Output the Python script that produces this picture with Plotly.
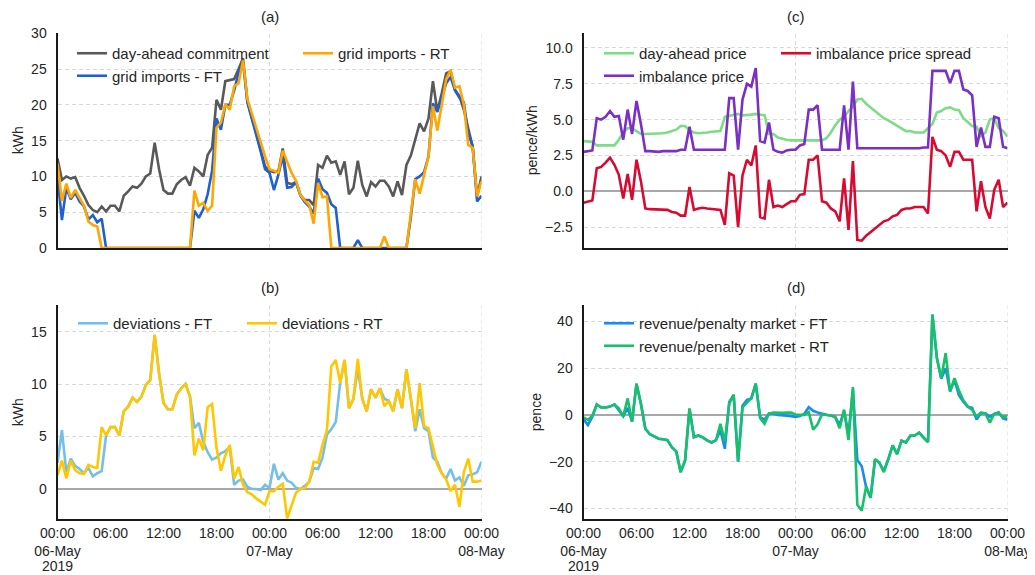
import pandas as pd
import plotly.graph_objects as go

# ---------------- data (half-hourly, 06-May-2019 00:00 .. 08-May-2019 00:00) ----------------
times = pd.date_range("2019-05-06 00:00", "2019-05-08 00:00", freq="30min")

commitment = [12.5, 9.5, 10.0, 9.7, 9.9, 8.4, 7.3, 6.0, 5.3, 5.0, 5.8, 5.1,
              5.9, 5.9, 5.1, 7.3, 7.9, 8.6, 8.4, 9.0, 10.0, 10.4, 14.7, 11.0,
              8.1, 7.6, 7.6, 8.9, 9.5, 9.9, 8.7, 11.2, 10.7, 10.0, 13.0, 14.0,
              20.7, 19.3, 23.3, 23.5, 23.6, 25.0, 26.5, 20.5, 18.4, 16.0, 13.7, 11.4,
              10.8, 10.6, 10.7, 13.9, 9.1, 8.9, 9.2, 7.4, 6.7, 6.7, 6.0, 11.6,
              11.2, 12.9, 11.9, 12.1, 10.2, 12.1, 7.5, 8.4, 12.2, 8.8, 7.2, 9.2,
              8.6, 9.4, 9.4, 8.6, 7.2, 9.3, 7.4, 11.6, 12.9, 15.1, 17.4, 16.3,
              18.1, 23.3, 19.1, 21.6, 24.4, 24.7, 22.1, 21.2, 19.3, 16.7, 14.2, 7.2,
              10.0]

imports_ft = [10.0, 3.9, 8.4, 6.8, 7.7, 6.5, 5.8, 4.0, 4.6, 3.6, 4.1, 0,
              0, 0, 0, 0, 0, 0, 0, 0, 0, 0, 0, 0,
              0, 0, 0, 0, 0, 0, 0, 5.2, 4.2, 5.4, 7.5, 10.8,
              18.1, 16.5, 20.0, 20.0, 22.0, 24.5, 26.0, 20.3, 18.2, 15.8, 13.5, 11.0,
              10.5, 8.1, 10.2, 12.9, 8.4, 8.5, 9.2, 7.3, 6.4, 5.8, 4.8, 9.7,
              8.2, 7.7, 6.1, 5.6, 0, 0, 0, 0, 1.1, 0, 0, 0,
              0, 0, 0, 0, 0, 0, 0, 0, 4.3, 9.6, 10.0, 10.6,
              12.8, 20.2, 19.0, 21.0, 23.0, 23.9, 22.0, 21.0, 20.3, 16.0, 14.2, 6.5,
              7.3]

imports_rt = [11.8, 6.6, 9.0, 7.0, 8.1, 6.9, 5.9, 3.7, 3.2, 3.0, 0, 0,
              0, 0, 0, 0, 0, 0, 0, 0, 0, 0, 0, 0,
              0, 0, 0, 0, 0, 0, 0, 8.0, 5.9, 6.3, 5.2, 5.9,
              16.8, 17.5, 20.1, 19.3, 22.6, 23.0, 26.2, 20.8, 18.9, 16.8, 14.8, 12.8,
              11.0, 10.8, 10.5, 13.6, 12.1, 10.5, 9.4, 7.4, 6.6, 6.0, 3.4, 9.1,
              7.1, 7.2, 0, 0, 0, 0, 0, 0, 0, 0, 0, 0,
              0, 0, 1.6, 0, 0, 0, 0, 0, 4.8, 9.6, 7.6, 10.1,
              12.8, 19.8, 16.4, 20.0, 23.6, 24.9, 22.4, 22.6, 20.0, 14.4, 14.0, 7.2,
              9.3]

dev_ft = [2.5, 5.6, 1.6, 2.9, 2.2, 1.9, 1.5, 2.0, 1.2, 1.5, 1.7, 5.1,
          5.9, 5.9, 5.1, 7.4, 7.85, 8.7, 8.3, 8.8, 9.9, 10.4, 14.7, 11.0,
          8.2, 7.6, 7.6, 9.0, 9.6, 10.0, 8.8, 5.8, 6.3, 4.5, 3.5, 2.8,
          3.0, 3.4, 3.6, 4.0, 0.4, 0.8, 0.9, 0.2, 0.0, 0.0, -0.1, 0.4,
          0.1, 2.4, 0.9, 1.5, 0.8, 0.6, 0.1, 0.0, 0.3, 0.7, 2.0, 1.9,
          3.0, 5.2, 5.7, 6.4, 10.1, 12.3, 7.7, 8.6, 11.5, 8.6, 7.4, 9.5,
          8.7, 9.6, 8.6, 8.4, 7.4, 9.5, 7.7, 11.4, 8.6, 5.5, 7.6, 5.8,
          5.5, 3.0, 2.6, 1.5, 1.0, 1.9, 0.8, 1.1, 0.3, 1.3, 1.4, 1.6,
          2.6]

dev_rt = [1.3, 2.7, 1.0, 2.7, 1.8, 1.5, 1.45, 2.3, 2.1, 2.0, 5.9, 5.1,
          5.9, 5.9, 5.1, 7.4, 7.85, 8.7, 8.3, 8.8, 9.9, 10.4, 14.7, 11.0,
          8.2, 7.6, 7.6, 9.0, 9.6, 10.0, 8.8, 3.2, 4.8, 3.7, 7.8, 8.1,
          3.9, 1.75, 3.2, 4.2, 1.0, 2.1, 0.4, -0.3, -0.5, -0.9, -1.2, -1.5,
          -0.2, -0.2, 0.2, 0.5, -2.8, -1.5, -0.35, 0.0, 0.1, 0.7, 2.6, 2.5,
          4.2, 5.6, 11.7, 12.3, 10.1, 12.3, 7.7, 8.6, 12.4, 8.6, 7.4, 9.5,
          8.7, 9.6, 7.9, 8.4, 7.4, 9.5, 7.7, 11.4, 8.8, 5.8, 10.1, 6.0,
          5.8, 4.0, 2.3, 1.5, 0.9, -0.2, 0.4, -1.7, 1.6, 2.9, 0.7, 0.7,
          0.8]

da_price = [3.5, 3.5, 3.45, 3.2, 3.2, 3.2, 3.2, 3.2, 3.6, 4.1, 4.4, 4.4,
            4.2, 4.0, 4.0, 4.0, 4.0, 4.0, 4.05, 4.1, 4.2, 4.3, 4.55, 4.55,
            4.25, 4.1, 4.05, 4.05, 4.1, 4.15, 4.15, 4.2, 5.2, 5.25, 5.35, 5.4,
            5.3, 5.3, 5.35, 5.4, 5.35, 5.3, 4.0, 4.0, 3.75, 3.65, 3.6, 3.55,
            3.55, 3.5, 3.5, 3.5, 3.5, 3.5, 3.55, 3.7, 4.1, 4.6, 5.0, 5.2,
            5.6, 5.9, 6.4, 6.45, 6.1, 5.85, 5.6, 5.4, 5.1, 4.95, 4.75, 4.6,
            4.35, 4.2, 4.2, 4.1, 4.1, 4.1, 4.4, 4.7, 5.5, 5.6, 5.8, 5.85,
            5.7, 5.65, 5.1, 4.8, 4.55, 4.5, 3.85, 4.1, 5.0, 5.1, 4.4, 4.2,
            3.8]

imb_price = [2.75, 2.8, 2.85, 5.1, 5.0, 5.2, 5.6, 5.2, 5.25, 3.6, 5.7, 4.0,
             6.3, 4.7, 2.8, 2.8, 2.75, 2.75, 2.8, 2.8, 2.75, 2.8, 2.9, 2.9,
             4.5, 2.9, 2.9, 2.9, 2.9, 2.9, 2.9, 2.9, 2.9, 6.5, 6.5, 2.9,
             6.4, 7.5, 7.3, 8.6, 3.5, 3.4, 4.8, 2.9, 2.75, 2.7, 2.85, 2.9,
             2.9, 3.2, 3.3, 5.7, 5.7, 6.0, 2.9, 2.9, 2.9, 2.9, 2.9, 6.0,
             2.9, 7.65, 3.0, 3.0, 3.0, 2.95, 3.0, 3.0, 3.0, 3.0, 2.95, 3.0,
             3.0, 3.0, 3.0, 3.0, 3.0, 3.05, 3.05, 8.4, 8.4, 8.4, 8.4, 7.55,
             8.4, 8.4, 7.1, 7.0, 6.7, 3.1, 4.45, 3.1, 3.1, 5.2, 5.1, 3.1,
             3.0]

imb_spread = [-0.8, -0.75, -0.65, 1.6, 1.7, 2.0, 2.35, 1.85, 1.15, -0.5, 1.2, -0.6,
              2.2, 0.7, -1.2, -1.25, -1.25, -1.25, -1.25, -1.3, -1.45, -1.5, -1.7, -1.7,
              0.3, -1.3, -1.2, -1.15, -1.2, -1.25, -1.3, -1.3, -2.35, 1.25, 1.1, -2.5,
              1.1, 2.2, 1.8, 3.2, -1.8, -1.9, 0.8, -1.1, -1.0, -1.1, -0.9, -0.7,
              -0.7, -0.25, -0.2, 2.2, 2.2, 2.5, -0.7, -0.8, -1.2, -1.4, -2.1, 0.9,
              -2.7, 2.1, -3.4, -3.45, -3.1, -2.85, -2.6, -2.35, -2.1, -2.0, -1.75, -1.65,
              -1.3, -1.2, -1.2, -1.1, -1.1, -1.1, -1.55, 3.8, 2.9, 2.8, 2.5, 1.7,
              2.75, 2.75, 2.2, 2.2, 2.2, -1.4, 0.7, -1.1, -1.9, 0.1, 0.8, -1.1,
              -0.8]

rev_ft = [-1.8, -4.3, -0.8, 4.5, 3.2, 3.2, 3.6, 4.5, 2.0, -0.6, 3.0, -2.9,
          13.4, 4.8, -5.9, -8.2, -9.2, -10.2, -10.4, -10.8, -13.8, -15.6, -24.5, -19.5,
          2.7, -9.5, -8.8, -9.6, -10.9, -11.8, -10.8, -6.5, -14.5, 5.6, 8.6, -20.0,
          4.0, 6.5, 7.0, 13.4, -1.0, -2.0, 0.6, 0.5, 0.0, 0.0, -0.3, -0.5,
          -0.8, -0.5, 0.5, 3.3, 1.8, 1.0, 0.5, 0.2, -0.3, -0.8, -4.2, 1.7,
          -8.2, 10.9, -19.3, -22.0, -31.0, -35.5, -19.0, -20.5, -24.0, -19.0, -13.0, -16.8,
          -11.0, -11.8, -9.0, -8.8, -7.6, -9.8, -11.6, 43.0, 24.5, 15.5, 20.0, 10.0,
          15.0, 8.5, 5.7, 3.5, 3.0, -2.0, 0.8, 0.7, -0.8, 0.4, 1.1, -1.5,
          -2.0]

rev_rt = [-1.0, -2.1, -0.3, 4.5, 3.2, 3.2, 3.6, 4.5, 2.8, -0.6, 7.1, -2.9,
          13.4, 4.8, -5.9, -8.2, -9.2, -10.2, -10.4, -10.8, -13.8, -15.6, -24.5, -19.5,
          2.7, -9.5, -8.8, -9.6, -10.9, -11.8, -10.8, -3.8, -11.3, 4.8, 8.6, -20.0,
          3.2, 5.2, 7.2, 13.4, -1.4, -3.8, 0.6, 1.0, 0.8, 0.9, 1.0, 1.0,
          0.2, 0.0, 0.0, 1.2, -6.3, -4.0, 0.3, 0.0, -0.2, -1.0, -5.7, 2.3,
          -10.8, 11.9, -38.5, -41.0, -30.5, -35.5, -19.0, -20.5, -24.5, -19.0, -13.0, -16.8,
          -11.0, -11.8, -8.8, -8.8, -7.6, -9.8, -11.6, 43.0, 24.5, 15.8, 26.5, 10.2,
          15.8, 10.5, 6.3, 3.6, 2.1, -0.6, 1.0, 0.7, -3.3, 0.4, 0.7, -0.8,
          -0.6]

tick_times = pd.date_range("2019-05-06 00:00", "2019-05-08 00:00", freq="6h")
tick_text = ["00:00<br>06-May", "06:00", "12:00", "18:00",
             "00:00<br>07-May", "06:00", "12:00", "18:00", "00:00<br>08-May"]
year_label = "2019"
day_lines = ["2019-05-07 00:00", "2019-05-08 00:00"]

panel_titles = ["(a)", "(c)", "(b)", "(d)"]
y_titles = ["kWh", "pence/kWh", "kWh", "pence"]

# ---------------- styling ----------------
# The page body has an 8px margin, so the figure is 8px smaller than the window
# and all window-pixel positions are shifted by OFF.
OFF = 8
W, H = 1035 - OFF, 575 - OFF
FONT = "Liberation Sans, Arial, Helvetica, sans-serif"
TXT = "#262626"
GRID = "#d9d9d9"
SPINE = "#1a1a1a"
LW = 2.6


def px(xw):
    return (xw - OFF) / W


def py(yw):
    return 1 - (yw - OFF) / H


XL = [px(57.5), px(481.5)]
XR = [px(583.5), px(1007.5)]
YT = [py(248), py(32.5)]
YB = [py(519.3), py(305)]

fig = go.Figure()


def add(y, name, color, ax, legend):
    fig.add_trace(go.Scatter(
        x=times, y=y, name=name, mode="lines",
        line=dict(color=color, width=LW),
        xaxis="x" + ax, yaxis="y" + ax, legend=legend,
        hoverinfo="skip"))


# (a)
add(commitment, "day-ahead commitment", "#595959", "", "legend")
add(imports_ft, "grid imports - FT", "#1f5fd3", "", "legend")
add(imports_rt, "grid imports - RT", "#ffa600", "", "legend2")
# (c)
add(da_price, "day-ahead price", "#7ddc86", "2", "legend3")
add(imb_price, "imbalance price", "#7b2fc4", "2", "legend3")
add(imb_spread, "imbalance price spread", "#d80a32", "2", "legend4")
# (b)
add(dev_ft, "deviations - FT", "#74bfe9", "3", "legend5")
add(dev_rt, "deviations - RT", "#ffc700", "3", "legend6")
# (d)
add(rev_ft, "revenue/penalty market - FT", "#1a8cf0", "4", "legend7")
add(rev_rt, "revenue/penalty market - RT", "#17c06b", "4", "legend7")

tickfont = dict(family=FONT, size=14, color=TXT)


def xaxis(domain, anchor, labels):
    return dict(domain=domain, anchor=anchor, type="date",
                range=[times[0], times[-1]],
                showgrid=False, zeroline=False, automargin=False,
                showline=True, linecolor=SPINE, linewidth=2,
                ticks="", tickvals=list(tick_times), ticktext=tick_text,
                showticklabels=labels, tickfont=tickfont, fixedrange=True)


def yaxis(domain, anchor, rng, dtick, fmt, title, zero):
    return dict(domain=domain, anchor=anchor, range=rng, dtick=dtick, tick0=0,
                tickformat=fmt, automargin=False,
                showgrid=True, gridcolor=GRID, gridwidth=1, griddash="4px,3px",
                showline=True, linecolor=SPINE, linewidth=2,
                zeroline=zero, zerolinecolor="#a8a8a8", zerolinewidth=1.6,
                ticks="", ticklabelstandoff=6, tickfont=tickfont,
                title=dict(text=title, font=dict(family=FONT, size=14, color=TXT), standoff=4),
                fixedrange=True)


legend_common = dict(xanchor="left", yanchor="top", bgcolor="rgba(0,0,0,0)",
                     borderwidth=0, orientation="v", tracegroupgap=0,
                     font=dict(family=FONT, size=15, color=TXT))


def leg(xw, yw):
    d = dict(legend_common)
    d.update(x=px(xw), y=py(yw))
    return d


fig.update_layout(
    width=W, height=H, autosize=False,
    margin=dict(l=0, r=0, t=0, b=0, autoexpand=False),
    paper_bgcolor="white", plot_bgcolor="white",
    font=dict(family=FONT, color=TXT),
    xaxis=xaxis(XL, "y", False),
    yaxis=yaxis(YT, "x", [0, 30.1], 5, "", y_titles[0], False),
    xaxis2=xaxis(XR, "y2", False),
    yaxis2=yaxis(YT, "x2", [-3.96, 11.08], 2.5, ".1f", y_titles[1], True),
    xaxis3=xaxis(XL, "y3", True),
    yaxis3=yaxis(YB, "x3", [-2.89, 17.54], 5, "", y_titles[2], True),
    xaxis4=xaxis(XR, "y4", True),
    yaxis4=yaxis(YB, "x4", [-44.7, 47.1], 20, "", y_titles[3], True),
    legend=leg(72, 37),
    legend2=leg(298, 37),
    legend3=leg(599, 37),
    legend4=leg(776, 37),
    legend5=leg(73, 307),
    legend6=leg(242, 307),
    legend7=leg(599, 307),
)

# vertical day-boundary grid lines
shapes = []
for ax in ["", "2", "3", "4"]:
    for d in day_lines:
        shapes.append(dict(type="line", xref="x" + ax, yref="y" + ax + " domain",
                           x0=d, x1=d, y0=0, y1=1, layer="below",
                           line=dict(color=GRID, width=1, dash="4px,3px")))
fig.update_layout(shapes=shapes)

# panel titles
centers = [(XL[0] + XL[1]) / 2, (XR[0] + XR[1]) / 2, (XL[0] + XL[1]) / 2, (XR[0] + XR[1]) / 2]
ys = [py(17), py(17), py(287), py(287)]
for t, cx, cy in zip(panel_titles, centers, ys):
    fig.add_annotation(text=t, x=cx, y=cy, xref="paper", yref="paper",
                       showarrow=False, xanchor="center", yanchor="middle",
                       font=dict(family=FONT, size=15, color=TXT))

# year under the first date tick of the bottom panels
for ax in ["x3", "x4"]:
    fig.add_annotation(text=year_label, x=times[0], xref=ax, y=py(566), yref="paper",
                       showarrow=False, xanchor="center", yanchor="middle",
                       font=tickfont)

fig.write_html("out.html")
